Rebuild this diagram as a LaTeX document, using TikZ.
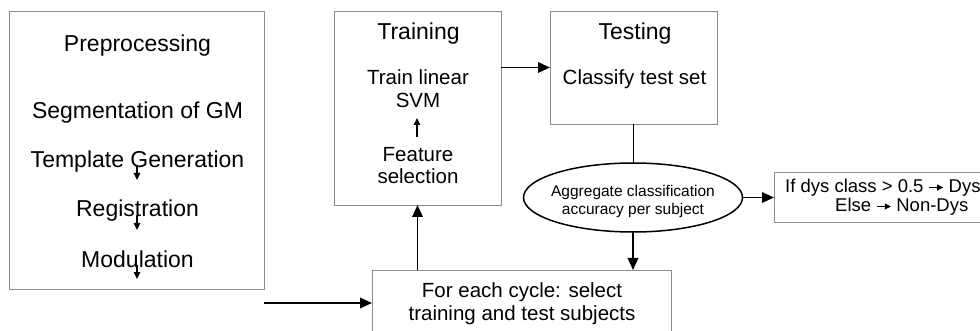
\documentclass[tikz,border=0pt]{standalone}
\usepackage{fontspec}
\setmainfont{Liberation Sans}
\usetikzlibrary{arrows.meta,shapes.geometric}
\newcommand{\myarr}{\tikz[baseline=0pt,x=1pt,y=1pt]{\draw[line width=0.9pt,-{Triangle[length=6pt,width=6pt]}] (0,5.5) -- (14,5.5);}}
\begin{document}
\begin{tikzpicture}[x=1pt,y=-1pt,
  box/.style={draw=black!45,line width=0.8pt,inner sep=0pt,outer sep=0pt},
  conn/.style={line width=1.8pt,-{Triangle[length=12pt,width=10.5pt]}},
  plainline/.style={line width=1.8pt},
  tinyarrow/.style={line width=1.1pt,-{Triangle[length=7pt,width=6.5pt]}},
  ttl/.style={font=\fontsize{23}{27}\selectfont,anchor=base,inner sep=0pt},
  txt/.style={font=\fontsize{20.5}{24}\selectfont,anchor=base,inner sep=0pt},
  small/.style={font=\fontsize{15.5}{18}\selectfont,anchor=base,inner sep=0pt},
  restxt/.style={font=\fontsize{18.5}{21}\selectfont,anchor=base west,inner sep=0pt}]
\useasboundingbox (0,0) rectangle (980,331);
\clip (0,0) rectangle (980,331);
% boxes
\node[box,minimum width=255pt,minimum height=278pt] (pre) at (136.5,150) {};
\node[box,minimum width=167pt,minimum height=194pt] (train) at (417.5,108) {};
\node[box,minimum width=167pt,minimum height=113pt] (test) at (633.5,67.5) {};
\node[draw,ellipse,line width=1.5pt,inner sep=0pt,outer sep=0pt,
      minimum width=219pt,minimum height=69pt] (ell) at (633,197.5) {};
\node[box,minimum width=230pt,minimum height=50pt] (res) at (889,197.5) {};
\node[box,minimum width=299pt,minimum height=76pt] (cyc) at (521.5,308) {};
% preprocessing texts
\node[ttl] (tpre) at (137.5,52) {Preprocessing};
\node[ttl] (tseg) at (137.5,119) {Segmentation of GM};
\node[ttl] (ttmp) at (137.5,167.5) {Template Generation};
\node[ttl] (treg) at (137.5,217) {Registration};
\node[ttl] (tmod) at (137.5,267.5) {Modulation};
\coordinate (p1a) at (137,165); \coordinate (p1b) at (137,180);
\coordinate (p2a) at (137,215); \coordinate (p2b) at (137,230);
\coordinate (p3a) at (137,265); \coordinate (p3b) at (137,279);
\draw[tinyarrow] (p1a) -- (p1b);
\draw[tinyarrow] (p2a) -- (p2b);
\draw[tinyarrow] (p3a) -- (p3b);
% training texts
\node[ttl] (ttrain) at (418.5,39.3) {Training};
\node[txt] (tlin) at (418,85) {Train linear};
\node[txt] (tsvm) at (418,108) {SVM};
\node[txt] (tfeat) at (418,162) {Feature};
\node[txt] (tsel) at (418,183.5) {selection};
\coordinate (f1) at (417,137); \coordinate (f2) at (417,118);
\draw[tinyarrow] (f1) -- (f2);
% testing texts
\node[ttl] (ttest) at (635,39.3) {Testing};
\node[txt] (tcls) at (634.5,85) {Classify test set};
% ellipse texts
\node[small] (tagg) at (633,197) {Aggregate classification};
\node[small] (tacc) at (633,214.5) {accuracy per subject};
% result texts
\node[restxt] (tr1) at (785,193) {If dys class > 0.5 \myarr\ Dys};
\node[restxt] (tr2) at (835,212) {Else \myarr\ Non-Dys};
% cycle texts
\node[txt] (tc1) at (522,297) {For each cycle: select};
\node[txt] (tc2) at (522,320) {training and test subjects};
% connectors
\draw[conn] (train.east |- test.west) -- (test.west);
\draw[plainline] (test.south) -- (test.south |- ell.north);
\draw[conn] (ell.east) -- (res.west);
\draw[conn] (ell.south) -- (ell.south |- cyc.north);
\draw[conn] (train.south |- cyc.north) -- (train.south);
\coordinate (pin) at (264,303);
\draw[conn] (pin) -- (cyc.west |- pin);
\end{tikzpicture}
\end{document}
